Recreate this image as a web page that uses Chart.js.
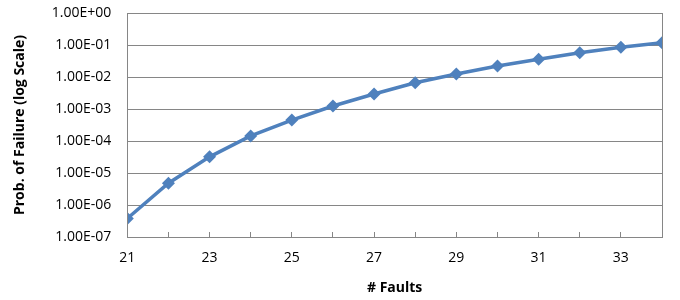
<!DOCTYPE html>
<html>
<head>
<meta charset="utf-8">
<script src="https://cdn.jsdelivr.net/npm/chart.js@4"></script>
<style>
    html, body { margin: 0; padding: 0; background: #fff; }
    #wrap { width: 680px; height: 300px; }
</style>
</head>
<body>
<div id="wrap"><canvas id="faultChart"></canvas></div>
<script>
// Number of faults (x) and probability of failure (y, log scale)
const faults = [21, 22, 23, 24, 25, 26, 27, 28, 29, 30, 31, 32, 33, 34];
const failureProb = [3.8e-7, 4.8e-6, 3.2e-5, 1.44e-4, 4.5e-4, 1.24e-3, 2.95e-3,
    6.6e-3, 1.24e-2, 2.2e-2, 3.6e-2, 5.7e-2, 8.5e-2, 1.18e-1];
const yDecades = [1e-7, 1e-6, 1e-5, 1e-4, 1e-3, 1e-2, 1e-1, 1e0];

const FONT = "'Open Sans', Arial, sans-serif";
const TEXT = "#000000";
const GRID = "#868686";

// Excel style scientific label: 1.00E-07
function sciLabel(value) {
    const exp = Math.round(Math.log10(value));
    const sign = exp < 0 ? "-" : "+";
    const digits = String(Math.abs(exp)).padStart(2, "0");
    return "1.00E" + sign + digits;
}

// Gray frame around the plot area
const frame = {
    id: "frame",
    afterDatasetsDraw(chart) {
        const { ctx, chartArea: a } = chart;
        ctx.save();
        ctx.strokeStyle = GRID;
        ctx.lineWidth = 1;
        ctx.strokeRect(Math.round(a.left) + 0.5, Math.round(a.top) + 0.5,
            Math.round(a.right - a.left), Math.round(a.bottom - a.top));
        ctx.restore();
    },
};

new Chart(document.getElementById("faultChart"), {
    type: "line",
    data: {
        datasets: [{
            data: faults.map((f, i) => ({ x: f, y: failureProb[i] })),
            borderColor: "#4F81BD",
            backgroundColor: "#4F81BD",
            borderWidth: 3.5,
            pointStyle: "rectRot",
            pointRadius: 6.5,
            pointBorderWidth: 0,
            tension: 0,
        }],
    },
    options: {
        responsive: true,
        maintainAspectRatio: false,
        animation: false,
        layout: { padding: { top: 0, right: 16, left: 12, bottom: 0 } },
        plugins: {
            legend: { display: false },
            tooltip: { enabled: false },
        },
        scales: {
            x: {
                type: "linear",
                min: 21,
                max: 34,
                afterBuildTicks: (scale) => {
                    scale.ticks = faults.map((v) => ({ value: v }));
                },
                // fixed band below the plot, like the original
                afterFit: (scale) => {
                    scale.height = 63;
                },
                ticks: {
                    font: { family: FONT, size: 14 },
                    color: TEXT,
                    padding: 18,
                    maxRotation: 0,
                    autoSkip: false,
                    callback: (v) => (v % 2 === 1 ? String(v) : ""),
                },
                grid: {
                    drawOnChartArea: false,
                    tickLength: -5,
                    color: GRID,
                },
                border: { color: GRID },
                title: {
                    display: true,
                    text: "# Faults",
                    font: { family: FONT, size: 14, weight: "bold" },
                    color: TEXT,
                    padding: { top: 2, bottom: 4 },
                },
            },
            y: {
                type: "logarithmic",
                min: 1e-7,
                max: 1,
                afterBuildTicks: (scale) => {
                    scale.ticks = yDecades.map((v) => ({ value: v, major: true }));
                },
                afterFit: (scale) => {
                    scale.paddingTop = 13;
                },
                ticks: {
                    font: { family: FONT, size: 14 },
                    color: TEXT,
                    padding: 16,
                    autoSkip: false,
                    callback: (v) => sciLabel(v),
                },
                grid: {
                    color: GRID,
                    drawTicks: false,
                },
                border: { color: GRID },
                title: {
                    display: true,
                    text: "Prob. of Failure (log Scale)",
                    font: { family: FONT, size: 14, weight: "bold" },
                    color: TEXT,
                    padding: { top: 0, bottom: 7 },
                },
            },
        },
    },
    plugins: [frame],
});
</script>
</body>
</html>
